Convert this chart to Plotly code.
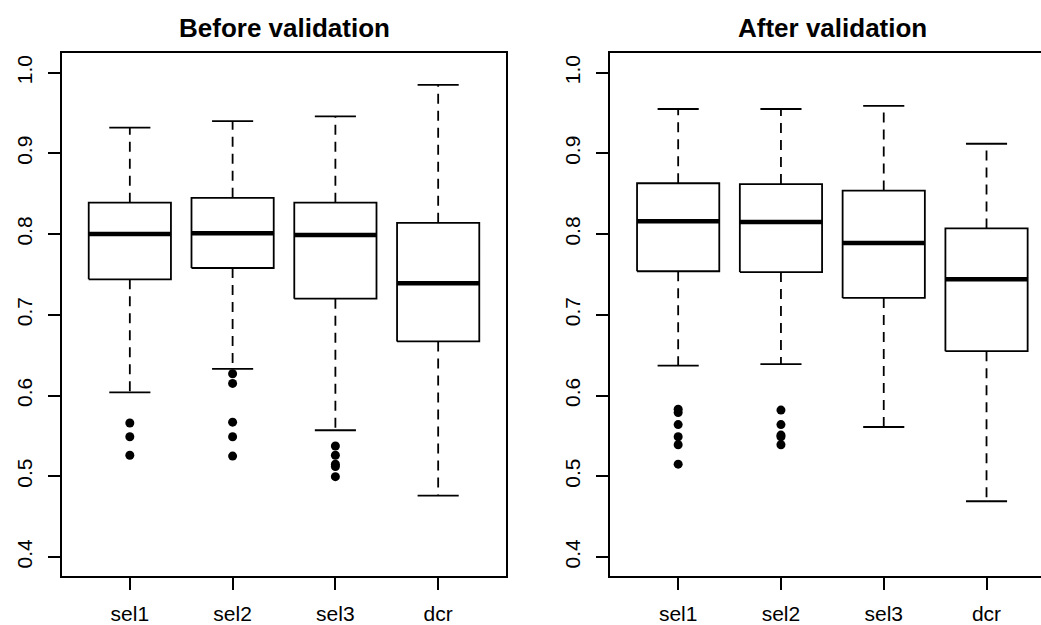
import plotly.graph_objects as go

categories = ["sel1", "sel2", "sel3", "dcr"]
y_ticks = [0.4, 0.5, 0.6, 0.7, 0.8, 0.9, 1.0]
y_tick_labels = ["0.4", "0.5", "0.6", "0.7", "0.8", "0.9", "1.0"]

# Before validation: box statistics
before_lower = [0.604, 0.633, 0.557, 0.476]
before_q1 = [0.744, 0.758, 0.720, 0.667]
before_median = [0.800, 0.801, 0.799, 0.739]
before_q3 = [0.839, 0.845, 0.839, 0.814]
before_upper = [0.932, 0.940, 0.946, 0.985]
before_outliers = [
    [0.566, 0.549, 0.526],
    [0.627, 0.615, 0.567, 0.549, 0.525],
    [0.5375, 0.526, 0.515, 0.512, 0.4995],
    [],
]

# After validation: box statistics
after_lower = [0.637, 0.639, 0.561, 0.469]
after_q1 = [0.754, 0.753, 0.721, 0.655]
after_median = [0.816, 0.815, 0.789, 0.744]
after_q3 = [0.863, 0.862, 0.854, 0.807]
after_upper = [0.955, 0.955, 0.959, 0.912]
after_outliers = [
    [0.583, 0.579, 0.564, 0.549, 0.539, 0.515],
    [0.582, 0.564, 0.551, 0.549, 0.539],
    [],
    [],
]

BOX_HALF = 0.4
CAP_HALF = 0.2
LW = 1.8
FONT = "Liberation Sans, Arial, Helvetica, sans-serif"

fig = go.Figure()


def add_panel(xa, ya, lower, q1, med, q3, upper, outliers):
    bx, by, mx, my, wx, wy, cx, cy, ox, oy = ([] for _ in range(10))
    for i in range(len(categories)):
        p = i + 1
        bx += [p - BOX_HALF, p + BOX_HALF, p + BOX_HALF, p - BOX_HALF, p - BOX_HALF, None]
        by += [q1[i], q1[i], q3[i], q3[i], q1[i], None]
        mx += [p - BOX_HALF, p + BOX_HALF, None]
        my += [med[i], med[i], None]
        wx += [p, p, None, p, p, None]
        wy += [q3[i], upper[i], None, q1[i], lower[i], None]
        cx += [p - CAP_HALF, p + CAP_HALF, None, p - CAP_HALF, p + CAP_HALF, None]
        cy += [upper[i], upper[i], None, lower[i], lower[i], None]
        for v in outliers[i]:
            ox.append(p)
            oy.append(v)
    common = dict(xaxis=xa, yaxis=ya, showlegend=False, hoverinfo="skip")
    fig.add_trace(go.Scatter(x=wx, y=wy, mode="lines",
                             line=dict(color="black", width=LW, dash="10px,7px"), **common))
    fig.add_trace(go.Scatter(x=cx, y=cy, mode="lines",
                             line=dict(color="black", width=LW), **common))
    fig.add_trace(go.Scatter(x=bx, y=by, mode="lines",
                             line=dict(color="black", width=LW), **common))
    fig.add_trace(go.Scatter(x=mx, y=my, mode="lines",
                             line=dict(color="black", width=4.5), **common))
    fig.add_trace(go.Scatter(x=ox, y=oy, mode="markers",
                             marker=dict(color="black", size=9, line=dict(width=0)), **common))


add_panel("x", "y", before_lower, before_q1, before_median, before_q3, before_upper, before_outliers)
add_panel("x2", "y2", after_lower, after_q1, after_median, after_q3, after_upper, after_outliers)

W, H = 1041, 625
yd = [1 - 576.33 / H, 1 - 53.33 / H]

xcommon = dict(
    tickmode="array", tickvals=[1, 2, 3, 4], ticktext=categories,
    ticks="outside", ticklen=12, tickwidth=LW, tickcolor="black",
    showline=True, linecolor="black", linewidth=LW, mirror=True,
    showgrid=False, zeroline=False, fixedrange=True,
    tickfont=dict(family=FONT, size=21, color="black"),
    ticklabelstandoff=6,
)
ycommon = dict(
    range=[0.376, 1.024], tickmode="array", tickvals=y_ticks, ticktext=y_tick_labels,
    ticks="outside", ticklen=12, tickwidth=LW, tickcolor="black",
    showline=True, linecolor="black", linewidth=LW,
    showgrid=False, zeroline=False, fixedrange=True, tickangle=-90,
    tickfont=dict(family=FONT, size=21, color="black"),
    ticklabelstandoff=8,
)

fig.update_layout(
    width=W, height=H,
    margin=dict(l=0, r=0, t=0, b=0),
    paper_bgcolor="white", plot_bgcolor="white",
    xaxis=dict(domain=[62.0 / W, 506.0 / W], range=[0.34, 4.66], anchor="y", **xcommon),
    yaxis=dict(domain=yd, anchor="x", mirror=True, **ycommon),
    xaxis2=dict(domain=[610.33 / W, 1.0], range=[0.34, 4.53], anchor="y2", **xcommon),
    yaxis2=dict(domain=yd, anchor="x2", mirror=False, **ycommon),
    annotations=[
        dict(text="<b>Before validation</b>", x=284.0 / W, y=1 - 28.0 / H, xref="paper", yref="paper",
             showarrow=False, xanchor="center", yanchor="middle",
             font=dict(family=FONT, size=26, color="black")),
        dict(text="<b>After validation</b>", x=832.33 / W, y=1 - 28.0 / H, xref="paper", yref="paper",
             showarrow=False, xanchor="center", yanchor="middle",
             font=dict(family=FONT, size=26, color="black")),
    ],
)

fig.write_html("out.html", config={"displayModeBar": False})
